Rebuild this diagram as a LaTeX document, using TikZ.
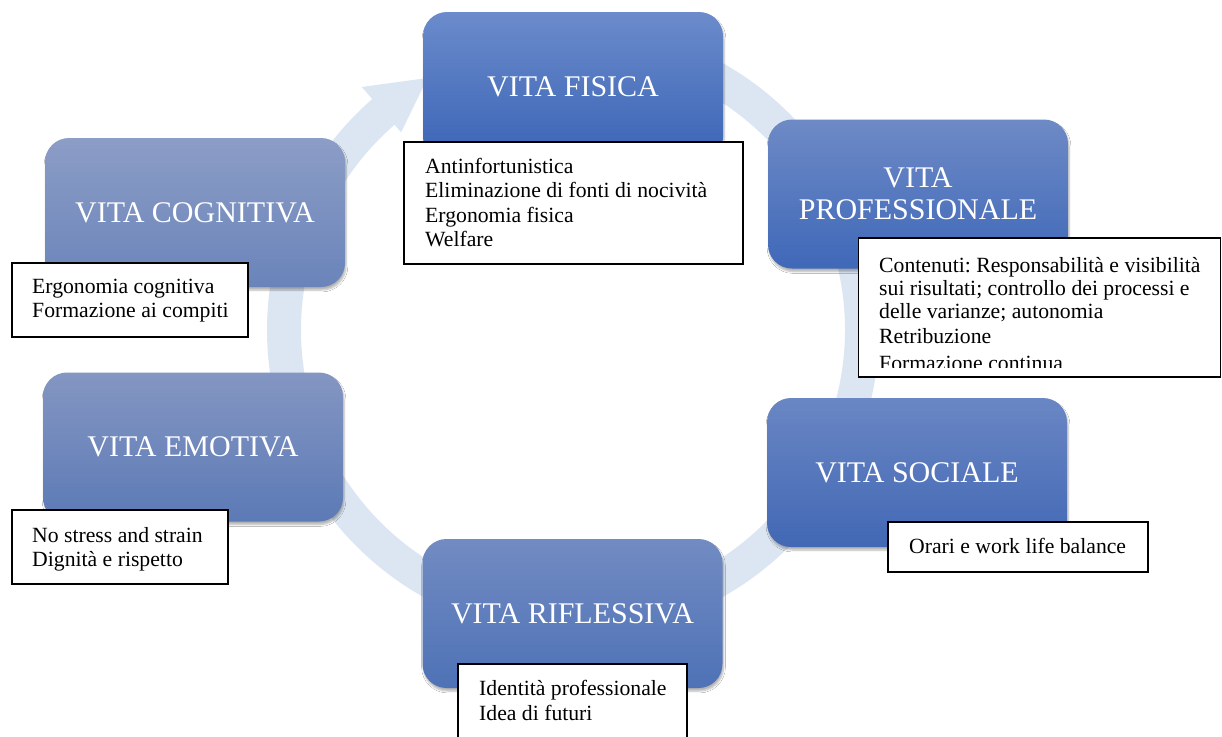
\documentclass[tikz,border=0pt]{standalone}
\usepackage{fontspec}
\setmainfont{Liberation Serif}
\usetikzlibrary{shadows.blur}
\frenchspacing
\definecolor{ringc}{HTML}{DCE6F2}
\definecolor{fisA}{HTML}{6B8BCB}\definecolor{fisB}{HTML}{3A64B6}
\definecolor{proA}{HTML}{6E8AC6}\definecolor{proB}{HTML}{3F68B8}
\definecolor{socA}{HTML}{6A86C4}\definecolor{socB}{HTML}{4268B4}
\definecolor{rifA}{HTML}{728BC2}\definecolor{rifB}{HTML}{4E72B6}
\definecolor{emoA}{HTML}{8496C2}\definecolor{emoB}{HTML}{5C7AB6}
\definecolor{cogA}{HTML}{8C9DC6}\definecolor{cogB}{HTML}{6A84BA}
\newcommand\ttlfnt{\fontsize{30}{32}\selectfont}
\newcommand\smlfnt{\fontsize{21.7}{24.5}\selectfont}
\begin{document}
\begin{tikzpicture}[x=1pt,y=-1pt,
  bbox/.style={rounded corners=24pt, minimum width=300pt, minimum height=149pt,
    text=white, font=\ttlfnt, align=center, inner sep=0pt,
    blur shadow={shadow xshift=1pt, shadow yshift=-3pt, shadow opacity=30, shadow blur steps=6}},
  tbox/.style={draw=black, line width=1.3pt, fill=white, inner sep=0pt},
  ttext/.style={anchor=north west, align=left, inner sep=0pt, font=\smlfnt},
]
\clip (0,0) rectangle (1222,736);
\fill[white] (0,0) rectangle (1222,736);

% circular arrow
\begin{scope}[shift={(573,330)}]
\fill[ringc] (-95:306) arc[start angle=-95, end angle=229, radius=306]
  -- (229:322) -- (240:291) -- (229:262) -- (229:272)
  arc[start angle=229, end angle=-95, radius=272] -- cycle;
\end{scope}

% blue boxes
\node[bbox, top color=fisA, bottom color=fisB] (fis) at (573,86.5) {VITA FISICA};
\node[bbox, top color=proA, bottom color=proB] (pro) at (918,194) {VITA\\PROFESSIONALE};
\node[bbox, top color=socA, bottom color=socB] (soc) at (917,472.5) {VITA SOCIALE};
\node[bbox, top color=rifA, bottom color=rifB] (rif) at (572.5,613.5) {VITA RIFLESSIVA};
\node[bbox, top color=emoA, bottom color=emoB] (emo) at (193,447) {VITA EMOTIVA};
\node[bbox, top color=cogA, bottom color=cogB] (cog) at (195,212.5) {VITA COGNITIVA};

% white text boxes
\node[tbox, minimum width=339pt, minimum height=122pt] (fisT) at (573.5,203) {};
\node[ttext] (fisX) at (425,158) {Antinfortunistica\\Eliminazione di fonti di nocività\\Ergonomia fisica\\Welfare};

\node[tbox, minimum width=362pt, minimum height=139pt] (proT) at (1039.5,307.5) {};
\begin{scope}
\clip (858,238) rectangle (1221,367);
\node[ttext, font=\fontsize{21.7}{23}\selectfont] (proX) at (879,257) {Contenuti: Responsabilità e visibilità\\sui risultati; controllo dei processi e\\delle varianze; autonomia\\[2pt]Retribuzione\\[4pt]Formazione continua};
\end{scope}

\node[tbox, minimum width=236pt, minimum height=74pt] (cogT) at (130,300) {};
\node[ttext] (cogX) at (32,278.5) {Ergonomia cognitiva\\Formazione ai compiti};

\node[tbox, minimum width=216pt, minimum height=74pt] (emoT) at (120,547) {};
\node[ttext] (emoX) at (32,527) {No stress and strain\\Dignità e rispetto};

\node[tbox, minimum width=260pt, minimum height=50pt] (socT) at (1018,547) {};
\node[ttext] (socX) at (909,538.5) {Orari e work life balance};

\node[tbox, minimum width=229pt, minimum height=90pt] (rifT) at (572.5,709) {};
\node[ttext] (rifX) at (479,680.5) {Identità professionale\\Idea di futuri};
\end{tikzpicture}
\end{document}
